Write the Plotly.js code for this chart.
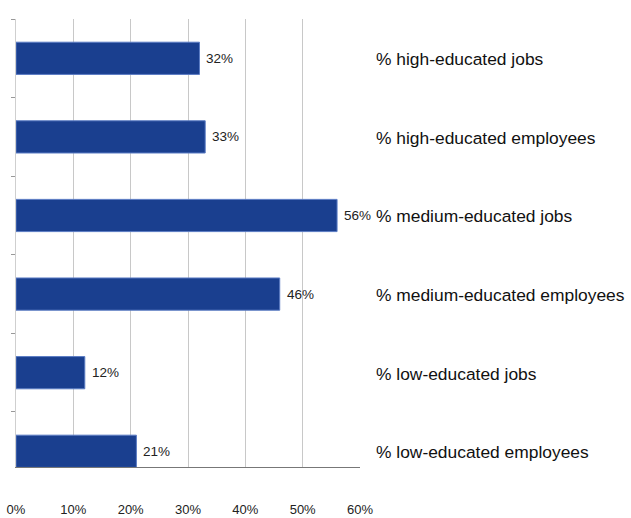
<!DOCTYPE html>
<html>
<head>
<meta charset="utf-8">
<script src="https://cdn.plot.ly/plotly-3.0.1.min.js"></script>
<style>html,body{margin:0;padding:0;background:#fff;}#chart{width:631px;height:518px;}</style>
</head>
<body>
<div id="chart"></div>
<script>
var categories = [
  "% high-educated jobs",
  "% high-educated employees",
  "% medium-educated jobs",
  "% medium-educated employees",
  "% low-educated jobs",
  "% low-educated employees"
];
var values = [32, 33, 56, 46, 12, 21];
var xTickVals = [0, 10, 20, 30, 40, 50, 60];
var xTickText = ["0%", "10%", "20%", "30%", "40%", "50%", "60%"];

var fam = "Liberation Sans Narrow, Arial Narrow, Liberation Sans, Arial, sans-serif";

var trace = {
  type: "bar",
  orientation: "h",
  x: values,
  y: categories,
  marker: {color: "#1a3f8f", line: {color: "#5b7cc4", width: 1}},
  cliponaxis: false,
  hoverinfo: "none"
};

var catAnn = categories.map(function(c){
  return {
    xref: "paper", yref: "y", x: 1, y: c,
    xanchor: "left", yanchor: "middle", xshift: 14, yshift: -1,
    text: c, showarrow: false,
    font: {family: fam, size: 17.4, color: "#111"}
  };
});
var valAnn = categories.map(function(c, i){
  return {
    xref: "x", yref: "y", x: values[i], y: c,
    xanchor: "left", yanchor: "middle", xshift: 5,
    text: values[i] + "%", showarrow: false,
    font: {family: fam, size: 13.5, color: "#222"}
  };
});

var layout = {
  width: 631, height: 518,
  margin: {l: 16, r: 271, t: 19, b: 51},
  paper_bgcolor: "#fff", plot_bgcolor: "#fff",
  showlegend: false,
  bargap: 0.59,
  xaxis: {
    range: [0, 60],
    tickvals: xTickVals, ticktext: xTickText,
    showgrid: true, gridcolor: "#c8c8c8", gridwidth: 1,
    zeroline: false,
    showline: true, linecolor: "#777", linewidth: 1,
    ticks: "", ticklabelstandoff: 30,
    tickfont: {family: fam, size: 13, color: "#222"},
    fixedrange: true
  },
  yaxis: {
    type: "category",
    categoryorder: "array", categoryarray: categories,
    range: [5.2, -0.5],
    showticklabels: false,
    ticks: "outside", tickson: "boundaries", ticklen: 4, tickcolor: "#999",
    showline: true, linecolor: "#cfcfcf", linewidth: 1,
    showgrid: false, zeroline: false,
    fixedrange: true
  },
  annotations: catAnn.concat(valAnn)
};

Plotly.newPlot("chart", [trace], layout, {displayModeBar: false, staticPlot: true});
</script>
</body>
</html>
